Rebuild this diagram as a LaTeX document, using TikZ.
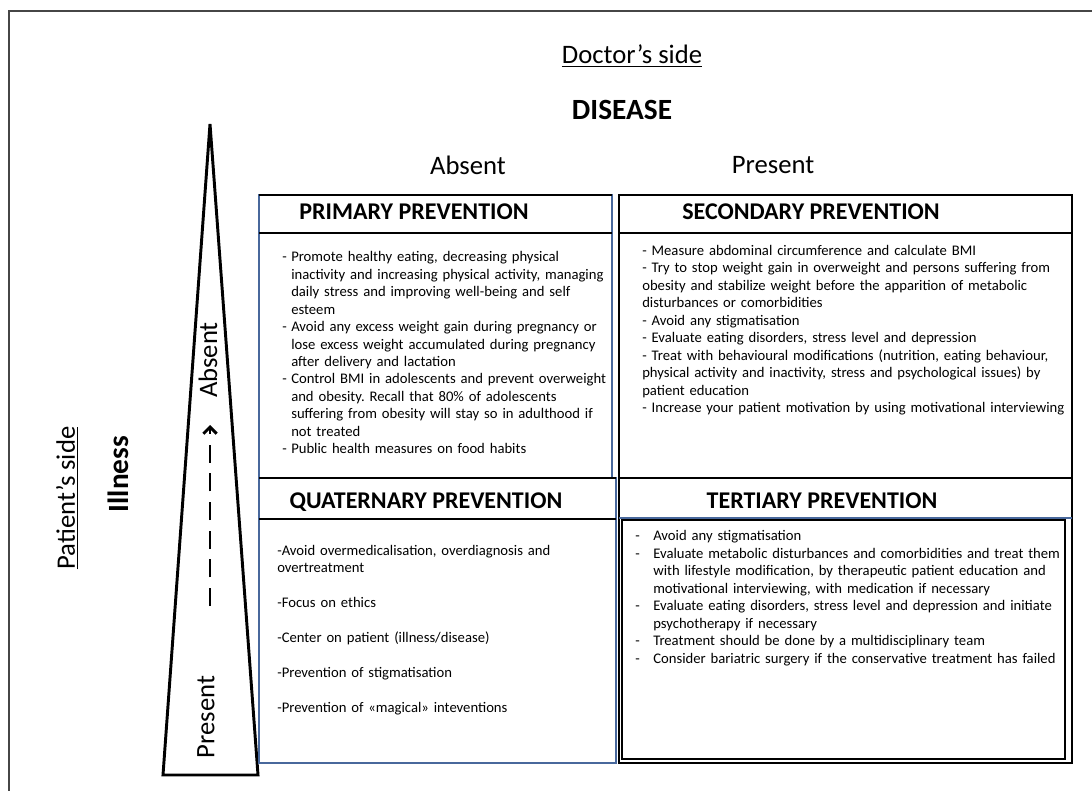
\documentclass[tikz,border=0pt]{standalone}
\usepackage{fontspec}
\setmainfont{Carlito}
\usetikzlibrary{arrows.meta}
\frenchspacing

\definecolor{boxblue}{RGB}{72,104,156}
\definecolor{framegrey}{RGB}{70,70,70}

\newlength{\dashw}
\newcommand{\dashitem}[1]{\par\noindent\hangindent=\dashw\hangafter=1\strut\makebox[\dashw][l]{-}#1\par}

\tikzset{
  every node/.style={inner sep=0pt},
  sidelabel/.style={font=\fontsize{20}{24}\selectfont},
  biglabel/.style={font=\fontsize{22}{26}\selectfont\bfseries},
  boxhead/.style={anchor=base, font=\fontsize{18}{22}\selectfont\bfseries},
  boxtext/.style={anchor=north west, text width=#1,
    font=\fontsize{11}{13.1}\selectfont\frenchspacing},
  bluebox/.style={draw=boxblue, line width=1.5pt},
  blackbox/.style={draw=black, line width=2.2pt},
  headline/.style={draw=black, line width=0.9pt},
}

\begin{document}
\begin{tikzpicture}[x=0.75pt,y=-0.75pt]
\useasboundingbox (0,0) rectangle (1092,791);

% page frame
\draw[framegrey, line width=1.1pt] (9,791) -- (9,11) -- (1092,11);

% doctor's side
\node[sidelabel] (doctor) at (632,56) {\underline{Doctor's side}};
\node[biglabel] (disease) at (622,110) {DISEASE};
\node[sidelabel] (dabsent) at (468,165) {Absent};
\node[sidelabel] (dpresent) at (773,165) {Present};

% patient's side
\node[sidelabel, rotate=90] (patient) at (67,498) {\underline{Patient's side}};
\node[biglabel, rotate=90] (illness) at (118,474) {Illness};

% triangle
\draw[line width=2.2pt, line join=miter] (210,124) -- (258,775) -- (163,775) -- cycle;
\node[sidelabel, rotate=90] (iabsent) at (208,360) {Absent};
\node[sidelabel, rotate=90] (ipresent) at (206,717) {Present};
\coordinate (arrlow) at (210,606);
\coordinate (arrtop) at (210,425);
\draw[line width=2.2pt, dash pattern=on 13.5pt off 8pt,
  -{Straight Barb[length=5pt,width=10pt]}] (arrlow) -- (arrtop);

% quadrants
\draw[bluebox] (259,195) rectangle (612,478);
\draw[headline] (259,195) -- (612,195);
\draw[headline] (259,233) -- (612,233);
\draw[blackbox] (619,195) rectangle (1072,478);
\draw[headline] (619,233) -- (1072,233);
\draw[bluebox] (259,478) rectangle (616,763);
\draw[headline] (259,478) -- (616,478);
\draw[headline] (259,519) -- (616,519);
\draw[blackbox] (619,478) rectangle (1072,763);
\draw[line width=0.9pt, boxblue] (619,518) -- (1072,518);
\draw[line width=0.8pt] (622,520) rectangle (1065,759);

% headers
\node[boxhead] (primh) at (414,220) {PRIMARY PREVENTION};
\node[boxhead] (sech) at (811,220) {SECONDARY PREVENTION};
\node[boxhead] (quath) at (426,508) {QUATERNARY PREVENTION};
\node[boxhead] (terth) at (822,508) {TERTIARY PREVENTION};

% primary
\node[boxtext=260pt] (primtxt) at (282,244) {\raggedright\setlength{\dashw}{6.75pt}%
\dashitem{Promote healthy eating, decreasing physical\newline
inactivity and increasing physical activity, managing\newline
daily stress and improving well-being and self\newline
esteem}
\dashitem{Avoid any excess weight gain during pregnancy or\newline
lose excess weight accumulated during pregnancy\newline
after delivery and lactation}
\dashitem{Control BMI in adolescents and prevent overweight\newline
and obesity. Recall that 80\% of adolescents\newline
suffering from obesity will stay so in adulthood if\newline
not treated}
\dashitem{Public health measures on food habits}};

% secondary
\node[boxtext=340pt] (sectxt) at (642,243) {\raggedright\noindent\strut
- Measure abdominal circumference and calculate BMI\\
- Try to stop weight gain in overweight and persons suffering from\\
obesity and stabilize weight before the apparition of metabolic\\
disturbances or comorbidities\\
- Avoid any stigmatisation\\
- Evaluate eating disorders, stress level and depression\\
- Treat with behavioural modifications (nutrition, eating behaviour,\\
physical activity and inactivity, stress and psychological issues) by\\
patient education\\
- Increase your patient motivation by using motivational interviewing};

% quaternary
\node[boxtext=260pt] (quattxt) at (277,543) {\raggedright\noindent\strut
-Avoid overmedicalisation, overdiagnosis and\\
overtreatment\\[13.1pt]
-Focus on ethics\\[13.1pt]
-Center on patient (illness/disease)\\[13.1pt]
-Prevention of stigmatisation\\[13.1pt]
-Prevention of «magical» inteventions};

% tertiary
\node[boxtext=340pt] (tertxt) at (635,523) {\raggedright\setlength{\dashw}{13.5pt}%
\dashitem{Avoid any stigmatisation}
\dashitem{Evaluate metabolic disturbances and comorbidities and treat them\newline
with lifestyle modification, by therapeutic patient education and\newline
motivational interviewing, with medication if necessary}
\dashitem{Evaluate eating disorders, stress level and depression and initiate\newline
psychotherapy if necessary}
\dashitem{Treatment should be done by a multidisciplinary team}
\dashitem{Consider bariatric surgery if the conservative treatment has failed}};
\end{tikzpicture}
\end{document}
